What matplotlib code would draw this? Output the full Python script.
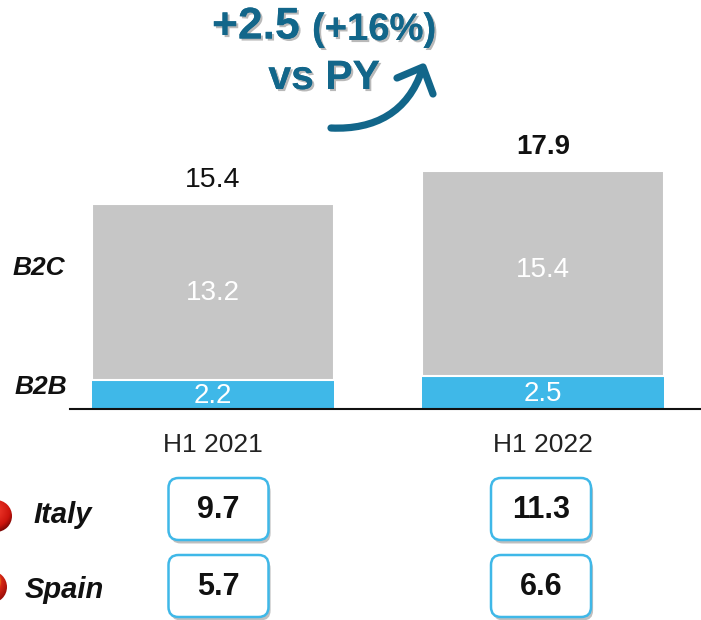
import numpy as np
import matplotlib
matplotlib.use("Agg")
import matplotlib.pyplot as plt
import matplotlib.patheffects as pe
from matplotlib.patches import FancyBboxPatch, PathPatch, Circle
from matplotlib.path import Path

plt.rcParams['font.family'] = ['Liberation Sans', 'DejaVu Sans']

periods = ["H1 2021", "H1 2022"]
b2b = [2.2, 2.5]
b2c = [13.2, 15.4]
totals = [15.4, 17.9]
italy = [9.7, 11.3]
spain = [5.7, 6.6]

W, H = 701, 620
GREY, BLUE, TEAL = "#C6C6C6", "#3FB8E8", "#12668A"
fig = plt.figure(figsize=(W / 100, H / 100), dpi=100, facecolor="white")

# Pixel overlay for annotations
ov = fig.add_axes([0, 0, 1, 1], zorder=3)
ov.set_xlim(0, W); ov.set_ylim(H, 0); ov.axis("off"); ov.patch.set_alpha(0)

# Bar axes
base_px, top_px, left_px, right_px = 409, 120, 70, 701
scale = 13.3
ax = fig.add_axes([left_px / W, 1 - base_px / H, (right_px - left_px) / W, (base_px - top_px) / H], zorder=1)
ax.set_ylim(0, (base_px - top_px) / scale)
ax.set_xlim((left_px - 213) / 330, (right_px - 213) / 330)
x = np.arange(len(periods))
ax.bar(x, b2b, width=242 / 330, color=BLUE, linewidth=0)
ax.bar(x, b2c, bottom=b2b, width=242 / 330, color=GREY, edgecolor="white", linewidth=1.5)
for s in ["top", "left", "right"]:
    ax.spines[s].set_visible(False)
ax.spines["bottom"].set_linewidth(1.5)
ax.spines["bottom"].set_color("#111111")
ax.set_yticks([])
ax.set_xticks(x, periods, fontsize=19, color="#222222")
ax.tick_params(axis="x", length=0, pad=17)
ax.patch.set_alpha(0)

for i in x:
    ax.text(i, b2b[i] / 2 - 0.12, f"{b2b[i]:.1f}", ha="center", va="center", color="white", fontsize=20)
    ax.text(i, b2b[i] + b2c[i] / 2 - 0.1 + (0.35 if i else 0), f"{b2c[i]:.1f}", ha="center", va="center", color="white", fontsize=20)
ax.text(0, totals[0] + 0.85, f"{totals[0]:.1f}", ha="center", va="bottom", fontsize=20.5, color="#111111", clip_on=False)
ax.text(1, totals[1] + 0.85, f"{totals[1]:.1f}", ha="center", va="bottom", fontsize=20, fontweight="bold", color="#111111", clip_on=False)

ov.text(39, 268, "B2C", ha="center", va="center", fontsize=19, fontweight="bold", style="italic", color="#111111")
ov.text(41, 387, "B2B", ha="center", va="center", fontsize=19, fontweight="bold", style="italic", color="#111111")

# Heading with soft shadow
shadow = [pe.withSimplePatchShadow(offset=(1.5, -1.5), shadow_rgbFace="#808080", alpha=0.55), pe.Normal()]
ov.text(212, 27, "+2.5", ha="left", va="center", fontsize=32, fontweight="bold", color=TEAL, path_effects=shadow)
ov.text(312, 30, "(+16%)", ha="left", va="center", fontsize=27.5, fontweight="bold", color=TEAL, path_effects=shadow)
ov.text(324, 78, "vs PY", ha="center", va="center", fontsize=29.5, fontweight="bold", color=TEAL, path_effects=shadow)

# Curved arrow
curve = Path([(331, 128), (375, 130), (408, 112), (422, 70)], [Path.MOVETO, Path.CURVE4, Path.CURVE4, Path.CURVE4])
head = Path([(397, 78), (423, 67), (433, 94)], [Path.MOVETO, Path.LINETO, Path.LINETO])
for p in (curve, head):
    ov.add_patch(PathPatch(p, fc="none", ec=TEAL, lw=5.2, capstyle="round", joinstyle="round"))

# Country rows
rows = [("Italy", italy, 509, 515, 63), ("Spain", spain, 586, 590, 64)]
for name, vals, yc, ty, tx in rows:
    ov.text(tx, ty, name, ha="center", va="center", fontsize=21, fontweight="bold", style="italic", color="#111111")
    for cx, v in zip((218.5, 541), vals):
        w, h = 100, 62
        box = FancyBboxPatch((cx - w / 2 + 10, yc - h / 2 + 10), w - 20, h - 20,
                             boxstyle="round,pad=10,rounding_size=10", fc="white", ec=BLUE, lw=1.8,
                             path_effects=[pe.SimplePatchShadow(offset=(1.5, -2.5), shadow_rgbFace="#808080", alpha=0.5), pe.Normal()])
        ov.add_patch(box)
        ov.text(cx, yc + 1, f"{v:.1f}", ha="center", va="center", fontsize=22, fontweight="bold", color="#111111")

# Flag spheres, cropped by the figure's left edge
def sphere(cx, cy, r, stops, extent_colors=None):
    yy, xx = np.mgrid[-1:1:120j, -1:1:120j]
    d = np.clip(np.hypot(xx + 0.15, yy + 0.35) / 1.35, 0, 1)
    rgb = np.zeros(d.shape + (3,))
    pos = [s[0] for s in stops]
    for c in range(3):
        rgb[..., c] = np.interp(d, pos, [s[1][c] for s in stops])
    im = ov.imshow(rgb, extent=(cx - r, cx + r, cy + r, cy - r), zorder=2, interpolation="bilinear")
    im.set_clip_path(Circle((cx, cy), r, transform=ov.transData))
    return im

sphere(-4, 516, 16, [(0, (1, .75, .7)), (.25, (.92, .2, .15)), (.75, (.8, .08, .05)), (1, (.5, .03, .02))])
sphere(-9, 587, 16, [(0, (1, 1, .6)), (.45, (.98, .85, .1)), (.6, (.85, .15, .08)), (1, (.6, .05, .03))])
ov.set_xlim(0, W); ov.set_ylim(H, 0); ov.set_aspect("auto")

fig.savefig("out.png", dpi=100)
